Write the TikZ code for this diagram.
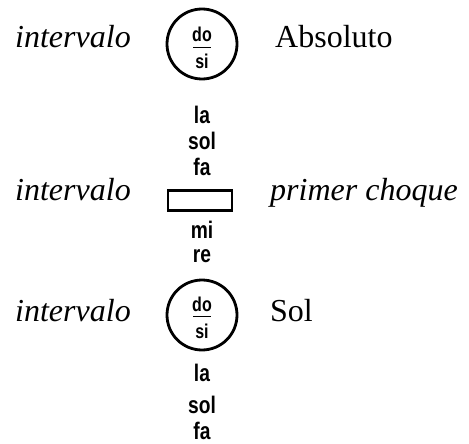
\documentclass[tikz,border=0pt]{standalone}
\usepackage{fontspec}
\usepackage{graphicx}
\setmainfont{Liberation Serif}
\newfontfamily\notefont{Liberation Sans}
\newcommand\nt[1]{\scalebox{0.8}[1]{\notefont\bfseries #1}}
\begin{document}
\begin{tikzpicture}[x=1pt,y=-1pt,
  big/.style={font=\fontsize{32}{36}\selectfont, inner sep=0pt, anchor=base west},
  note/.style={font=\fontsize{24}{26}\selectfont, inner sep=0pt},
  small/.style={font=\fontsize{20}{22}\selectfont, inner sep=0pt},
  ring/.style={draw, circle, line width=2.8pt, minimum size=70pt, inner sep=0pt},
  bar/.style={draw, line width=2.4pt, minimum width=64pt, minimum height=20pt, inner sep=0pt},
  rule/.style={line width=1.5pt}]
\useasboundingbox (0,0) rectangle (469,444);
% row 1
\node[ring] (c1) at (202,44) {};
\node[small] (do1) at (202,34) {\nt{do}};
\node[small] (si1) at (202,61) {\nt{si}};
\coordinate (r1a) at (193,47.5);
\coordinate (r1b) at (211,47.5);
\draw[rule] (r1a) -- (r1b);
\node[big] (i1) at (15,48) {\textit{intervalo}};
\node[big] (abs) at (275,48) {Absoluto};
\node[note] (la1) at (202,115) {\nt{la}};
\node[note] (sol1) at (202,141) {\nt{sol}};
\node[note] (fa1) at (202,167) {\nt{fa}};
% row 2
\node[bar] (r) at (200,200.5) {};
\node[big] (i2) at (15,200) {\textit{intervalo}};
\node[big] (pc) at (270,200) {\textit{primer choque}};
\node[note] (mi) at (202,230) {\nt{mi}};
\node[note] (re) at (202,256) {\nt{re}};
% row 3
\node[ring] (c2) at (202,315) {};
\node[small] (do2) at (202,304) {\nt{do}};
\node[small] (si2) at (202,331) {\nt{si}};
\coordinate (r2a) at (193,316.5);
\coordinate (r2b) at (211,316.5);
\draw[rule] (r2a) -- (r2b);
\node[big] (i3) at (15,321) {\textit{intervalo}};
\node[big] (sol) at (270,321) {Sol};
\node[note] (la2) at (202,373) {\nt{la}};
\node[note] (sol2) at (202,405) {\nt{sol}};
\node[note] (fa2) at (202,431) {\nt{fa}};
\end{tikzpicture}
\end{document}
